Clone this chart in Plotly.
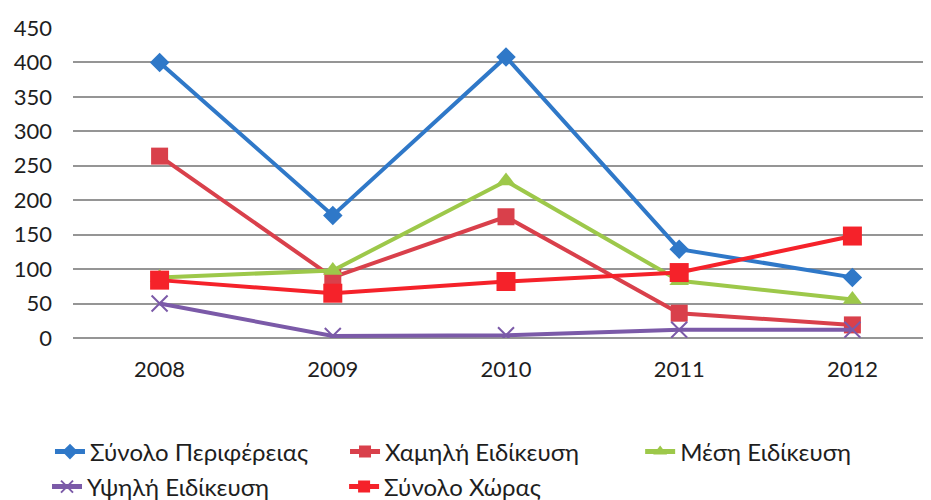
import plotly.graph_objects as go

years = ["2008", "2009", "2010", "2011", "2012"]
synolo_perifereias = [400, 178, 408, 129, 88]
chamili = [264, 88, 176, 36, 19]
mesi = [88, 98, 228, 83, 56]
ypsili = [50, 3, 4, 12, 12]
synolo_choras = [84, 65, 82, 95, 148]

names = ["Σύνολο Περιφέρειας", "Χαμηλή Ειδίκευση", "Μέση Ειδίκευση",
         "Υψηλή Ειδίκευση", "Σύνολο Χώρας"]
y_ticks = [0, 50, 100, 150, 200, 250, 300, 350, 400, 450]

FONT = "Lato, 'Noto Sans', sans-serif"
TEXT = "#1e1e1e"

styles = [
    dict(color="#2f78c8", symbol="diamond", size=15),
    dict(color="#d9404b", symbol="square", size=17),
    dict(color="#9dc84a", symbol="triangle-up", size=17),
    dict(color="#7b5aa8", symbol="x-thin-open", size=16),
    dict(color="#f5222a", symbol="square", size=19),
]
series = [synolo_perifereias, chamili, mesi, ypsili, synolo_choras]

# legend placement (container coords) per entry
leg_pos = [(0.0451, 0.112), (0.362, 0.112), (0.679, 0.112),
           (0.0419, 0.042), (0.361, 0.042)]

fig = go.Figure()
for i in range(5):
    st = styles[i]
    lname = "legend" if i == 0 else f"legend{i+1}"
    fig.add_trace(go.Scatter(
        x=years, y=series[i], name=names[i], mode="lines+markers",
        line=dict(color=st["color"], width=4),
        marker=dict(symbol=st["symbol"], size=st["size"], color=st["color"],
                    line=dict(color=st["color"], width=2 if "x" in st["symbol"] else 0)),
        legend=lname,
    ))

layout_legends = {}
for i in range(5):
    lname = "legend" if i == 0 else f"legend{i+1}"
    x, y = leg_pos[i]
    layout_legends[lname] = dict(
        xref="container", yref="container", x=x, y=y,
        xanchor="left", yanchor="middle",
        font=dict(size=24, color=TEXT, family=FONT),
        bgcolor="rgba(0,0,0,0)", borderwidth=0,
        itemsizing="constant",
    )

fig.update_layout(
    width=931, height=500,
    margin=dict(l=65, r=0, t=20, b=170, autoexpand=False),
    paper_bgcolor="white", plot_bgcolor="white",
    font=dict(family=FONT, size=22, color=TEXT),
    showlegend=True,
    **layout_legends,
)
fig.update_xaxes(type="category", range=[-0.5, 4.5], showgrid=False,
                 showline=False, ticks="", tickfont=dict(size=22),
                 ticklabelstandoff=16, automargin=False)
fig.update_yaxes(range=[0, 450], tickvals=y_ticks, showgrid=True,
                 gridcolor="#959595", gridwidth=1.5, zeroline=True,
                 zerolinecolor="#959595", zerolinewidth=1.5,
                 showline=False, ticks="", tickfont=dict(size=22),
                 ticklabelstandoff=20, automargin=False)

fig.write_html("out.html")
